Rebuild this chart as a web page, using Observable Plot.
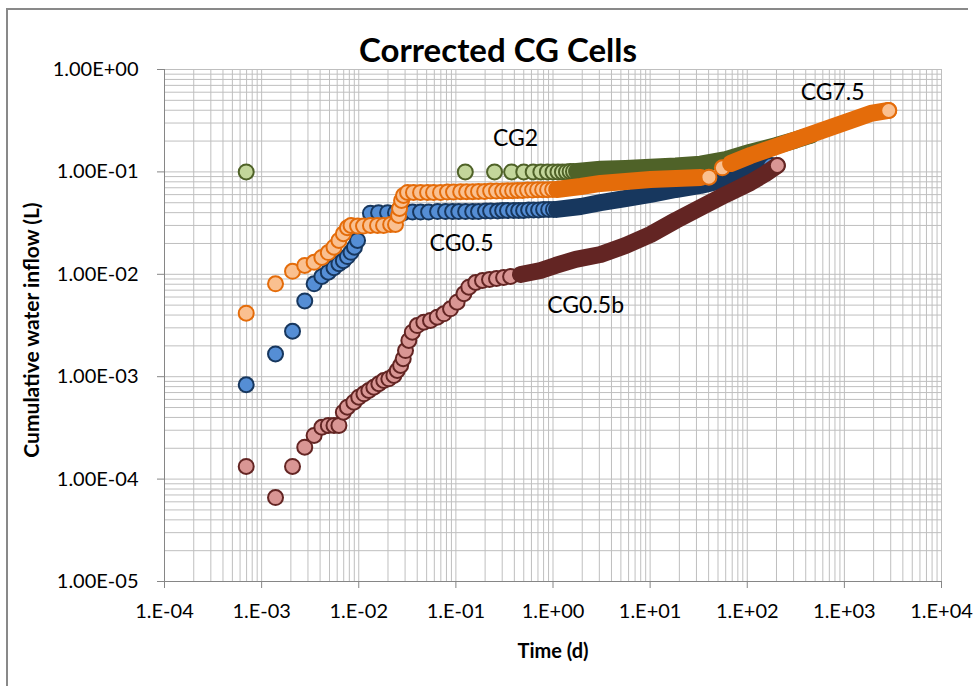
<!DOCTYPE html>
<html>
<head>
<meta charset="utf-8">
<script src="https://cdn.jsdelivr.net/npm/d3@7"></script>
<script src="https://cdn.jsdelivr.net/npm/@observablehq/plot@0.6"></script>
<style>
  body { margin: 0; background: #fff; }
  #chart { position: relative; width: 980px; height: 686px; overflow: hidden; font-family: Lato, sans-serif; color: #000; }
  #chart svg { position: absolute; left: 0; top: 0; }
  .frame-top { position: absolute; left: 6px; top: 8px; width: 962px; height: 2px; background: #898989; }
  .frame-left { position: absolute; left: 6px; top: 8px; width: 2px; height: 678px; background: #898989; }
  .title { position: absolute; left: 498px; top: 49px; transform: translate(-50%, -50%); font-weight: 700; font-size: 33px; line-height: 1; white-space: nowrap; }
  .ylabel { position: absolute; left: 30px; top: 330px; transform: translate(-50%, -50%) rotate(-90deg); font-weight: 700; font-size: 21px; line-height: 1; white-space: nowrap; }
  .xlabel { position: absolute; left: 553px; top: 650px; transform: translate(-50%, -50%); font-weight: 700; font-size: 20px; line-height: 1; white-space: nowrap; }
</style>
</head>
<body>
<div id="chart">
  <div class="frame-top"></div>
  <div class="frame-left"></div>
  <div class="title">Corrected CG Cells</div>
  <div class="ylabel">Cumulative water inflow (L)</div>
  <div class="xlabel">Time (d)</div>
</div>
<script>
// Axis ticks and their printed labels
const xMajor = [1e-4, 1e-3, 1e-2, 1e-1, 1, 1e1, 1e2, 1e3, 1e4];
const xTickLabels = ["1.E-04", "1.E-03", "1.E-02", "1.E-01", "1.E+00", "1.E+01", "1.E+02", "1.E+03", "1.E+04"];
const yMajor = [1e-5, 1e-4, 1e-3, 1e-2, 1e-1, 1];
const yTickLabels = ["1.00E-05", "1.00E-04", "1.00E-03", "1.00E-02", "1.00E-01", "1.00E+00"];
const minorSteps = [1, 2, 3, 4, 5, 6, 7, 8, 9];

// Series: [time (d), cumulative inflow (L)]
// "Markers" are the readings spaced far enough apart to show as single circles;
// "Band" readings are so closely spaced that their circles merge into a solid trail.
const cg2Markers = [
  [0.000694, 0.1], [0.125, 0.1], [0.25, 0.1], [0.375, 0.1], [0.5, 0.1], [0.625, 0.1],
  [0.75, 0.1], [0.875, 0.1], [1.0, 0.1], [1.125, 0.1], [1.25, 0.1], [1.375, 0.1],
  [1.5, 0.101], [1.625, 0.101]
];
const cg2Band = [
  [1.75, 0.101], [3.09, 0.106], [5.59, 0.108], [10.1, 0.111], [18.3, 0.114], [33.1, 0.119],
  [60, 0.132], [108, 0.156], [196, 0.18], [315, 0.205], [450, 0.228]
];

const cg05Markers = [
  [0.000694, 8.34e-4], [0.00139, 1.67e-3], [0.00208, 2.78e-3], [0.00278, 5.5e-3], [0.00347, 8.07e-3],
  [0.00417, 9.52e-3], [0.00486, 0.0105], [0.00556, 0.0116], [0.00625, 0.0127], [0.00694, 0.0136],
  [0.00764, 0.0149], [0.00833, 0.0164], [0.00903, 0.0184], [0.00972, 0.0214],
  [0.0132, 0.0395], [0.0160, 0.040], [0.0198, 0.040], [0.0239, 0.040], [0.0289, 0.040],
  [0.0358, 0.0405], [0.0433, 0.0405], [0.0524, 0.0405], [0.0648, 0.041], [0.0783, 0.041],
  [0.0925, 0.041], [0.107, 0.041], [0.126, 0.041], [0.149, 0.041], [0.171, 0.041],
  [0.202, 0.0415], [0.228, 0.0415], [0.269, 0.0415], [0.303, 0.042], [0.340, 0.042],
  [0.393, 0.042], [0.443, 0.042], [0.498, 0.042], [0.561, 0.0425], [0.631, 0.0425],
  [0.711, 0.0425], [0.800, 0.043], [0.902, 0.043], [1.01, 0.043]
];
const cg05Band = [
  [1.09, 0.043], [1.93, 0.0459], [3.09, 0.0502], [5.59, 0.055], [10.1, 0.0602], [18.3, 0.0673],
  [33.1, 0.0737], [60, 0.0843], [108, 0.0987], [174, 0.1155]
];

const cg05bMarkers = [
  [0.000694, 1.33e-4], [0.00139, 6.6e-5], [0.00208, 1.33e-4], [0.00278, 2.05e-4], [0.00347, 2.67e-4],
  [0.00417, 3.21e-4], [0.00486, 3.34e-4], [0.00556, 3.34e-4], [0.00625, 3.34e-4], [0.00694, 4.5e-4],
  [0.00764, 5.04e-4], [0.0089, 5.64e-4], [0.0100, 6.31e-4], [0.0113, 6.81e-4], [0.0127, 7.33e-4],
  [0.0143, 7.89e-4], [0.0161, 8.53e-4], [0.0181, 9.18e-4], [0.0204, 9.53e-4], [0.0230, 1.03e-3],
  [0.0249, 1.15e-3], [0.0270, 1.29e-3], [0.0287, 1.50e-3], [0.0303, 1.80e-3], [0.0328, 2.26e-3],
  [0.0356, 2.72e-3], [0.0400, 3.16e-3], [0.0468, 3.41e-3], [0.0548, 3.54e-3], [0.0643, 3.81e-3],
  [0.0752, 4.11e-3], [0.0881, 4.60e-3], [0.103, 5.34e-3], [0.121, 6.46e-3], [0.136, 7.48e-3],
  [0.160, 8.32e-3], [0.188, 8.70e-3], [0.222, 8.90e-3], [0.262, 9.10e-3], [0.310, 9.31e-3],
  [0.366, 9.52e-3]
];
const cg05bBand = [
  [0.463, 9.96e-3], [0.745, 0.0109], [1.064, 0.0122], [1.71, 0.0140], [3.09, 0.0156], [5.59, 0.0191],
  [10.1, 0.0245], [18.3, 0.0335], [33.1, 0.0449], [60, 0.0601], [108, 0.0788], [155, 0.0965],
  [204, 0.1155]
];

const cg75Markers = [
  [0.000694, 4.17e-3], [0.00139, 8.07e-3], [0.00208, 0.0107], [0.00278, 0.0122], [0.00347, 0.0131],
  [0.00417, 0.0146], [0.00486, 0.0163], [0.00556, 0.0184], [0.00625, 0.0214], [0.00694, 0.0249],
  [0.00764, 0.0285], [0.00833, 0.030], [0.00972, 0.0296], [0.0112, 0.0296], [0.0132, 0.030],
  [0.0156, 0.030], [0.018, 0.030], [0.0213, 0.0307], [0.0239, 0.0307],
  [0.0257, 0.0375], [0.0263, 0.0439], [0.0276, 0.0526], [0.0289, 0.0588],
  [0.0318, 0.063], [0.0366, 0.063], [0.0433, 0.063], [0.0511, 0.063], [0.0589, 0.063],
  [0.0695, 0.063], [0.082, 0.0635], [0.0946, 0.0635], [0.112, 0.064], [0.129, 0.064],
  [0.149, 0.064], [0.171, 0.0645], [0.198, 0.0645], [0.228, 0.065], [0.262, 0.065],
  [0.303, 0.065], [0.340, 0.0655], [0.384, 0.0655], [0.432, 0.066], [0.486, 0.066],
  [0.547, 0.0665], [0.617, 0.0665], [0.694, 0.067], [0.782, 0.067], [0.879, 0.067], [0.991, 0.0673]
];
const cg75Band = [
  [1.09, 0.0673], [1.93, 0.072], [3.09, 0.0771], [5.59, 0.0806], [10.1, 0.0843], [18.3, 0.0863],
  [33.1, 0.0882]
];
const cg75Restart = [[40.3, 0.0888], [55.4, 0.1096]];
const cg75LateBand = [
  [67.5, 0.1208], [108, 0.1446], [174, 0.1693], [280, 0.198], [450, 0.232], [722, 0.2715],
  [1161, 0.3177], [1866, 0.372], [2860, 0.398]
];

// In-plot series names and where they sit
const seriesNames = ["CG2", "CG0.5", "CG0.5b", "CG7.5"];
const nameTime = [0.412, 0.1145, 2.17, 757];
const nameInflow = [0.212, 0.02, 0.00496, 0.596];

const styles = {
  cg2: { fill: "#c3d69b", stroke: "#4f6228" },
  cg05: { fill: "#558ed5", stroke: "#17375e" },
  cg05b: { fill: "#d99694", stroke: "#632523" },
  cg75: { fill: "#fac090", stroke: "#e46c0a" }
};

const R = 7.5, SW = 2;
const X = d => d[0], Y = d => d[1];
const markers = (data, s) => Plot.dot(data, { x: X, y: Y, r: R, fill: s.fill, stroke: s.stroke, strokeWidth: SW });
const band = (data, s) => Plot.line(data, {
  x: X, y: Y, stroke: s.stroke, strokeWidth: 2 * R + SW, strokeLinecap: "round", strokeLinejoin: "round"
});
const last = arr => [arr[arr.length - 1]];

const xGrid = xMajor.slice(0, -1).flatMap(d => minorSteps.map(m => d * m)).concat([xMajor[xMajor.length - 1]]);
const yGrid = yMajor.slice(0, -1).flatMap(d => minorSteps.map(m => d * m)).concat([yMajor[yMajor.length - 1]]);
const xLabelOf = new Map(xMajor.map((d, i) => [d, xTickLabels[i]]));
const yLabelOf = new Map(yMajor.map((d, i) => [d, yTickLabels[i]]));
const nameRows = seriesNames.map((n, i) => ({ name: n, t: nameTime[i], v: nameInflow[i] }));

const chart = Plot.plot({
  width: 980,
  height: 686,
  marginLeft: 164,
  marginRight: 39,
  marginTop: 69,
  marginBottom: 105,
  style: { fontFamily: "Lato, sans-serif", fontSize: "20px", background: "transparent", overflow: "visible" },
  x: { type: "log", domain: [1e-4, 1e4] },
  y: { type: "log", domain: [1e-5, 1] },
  marks: [
    Plot.gridX({ ticks: xGrid, stroke: "#bfbfbf", strokeOpacity: 1 }),
    Plot.gridY({ ticks: yGrid, stroke: "#bfbfbf", strokeOpacity: 1 }),
    Plot.ruleX([1e-4], { stroke: "#868686" }),
    Plot.ruleY([1e-5], { stroke: "#868686" }),
    Plot.axisX({ ticks: xMajor, tickFormat: d => xLabelOf.get(d), tickSize: 7, tickPadding: 15, stroke: "#868686", fill: "#000", label: null }),
    Plot.axisY({ ticks: yMajor, tickFormat: d => yLabelOf.get(d), tickSize: 7, tickPadding: 19, stroke: "#868686", fill: "#000", label: null }),

    markers(cg2Markers, styles.cg2),
    band(cg2Band, styles.cg2),
    markers(last(cg2Band), styles.cg2),

    markers(cg05Markers, styles.cg05),
    band(cg05Band, styles.cg05),
    markers(last(cg05Band), styles.cg05),

    markers(cg05bMarkers, styles.cg05b),
    band(cg05bBand, styles.cg05b),
    markers(last(cg05bBand), styles.cg05b),

    markers(cg75Markers, styles.cg75),
    band(cg75Band, styles.cg75),
    markers(cg75Restart, styles.cg75),
    band(cg75LateBand, styles.cg75),
    markers(last(cg75LateBand), styles.cg75),

    Plot.text(nameRows, { x: "t", y: "v", text: "name", fontSize: 23, fill: "#000" })
  ]
});
document.getElementById("chart").prepend(chart);
</script>
</body>
</html>
